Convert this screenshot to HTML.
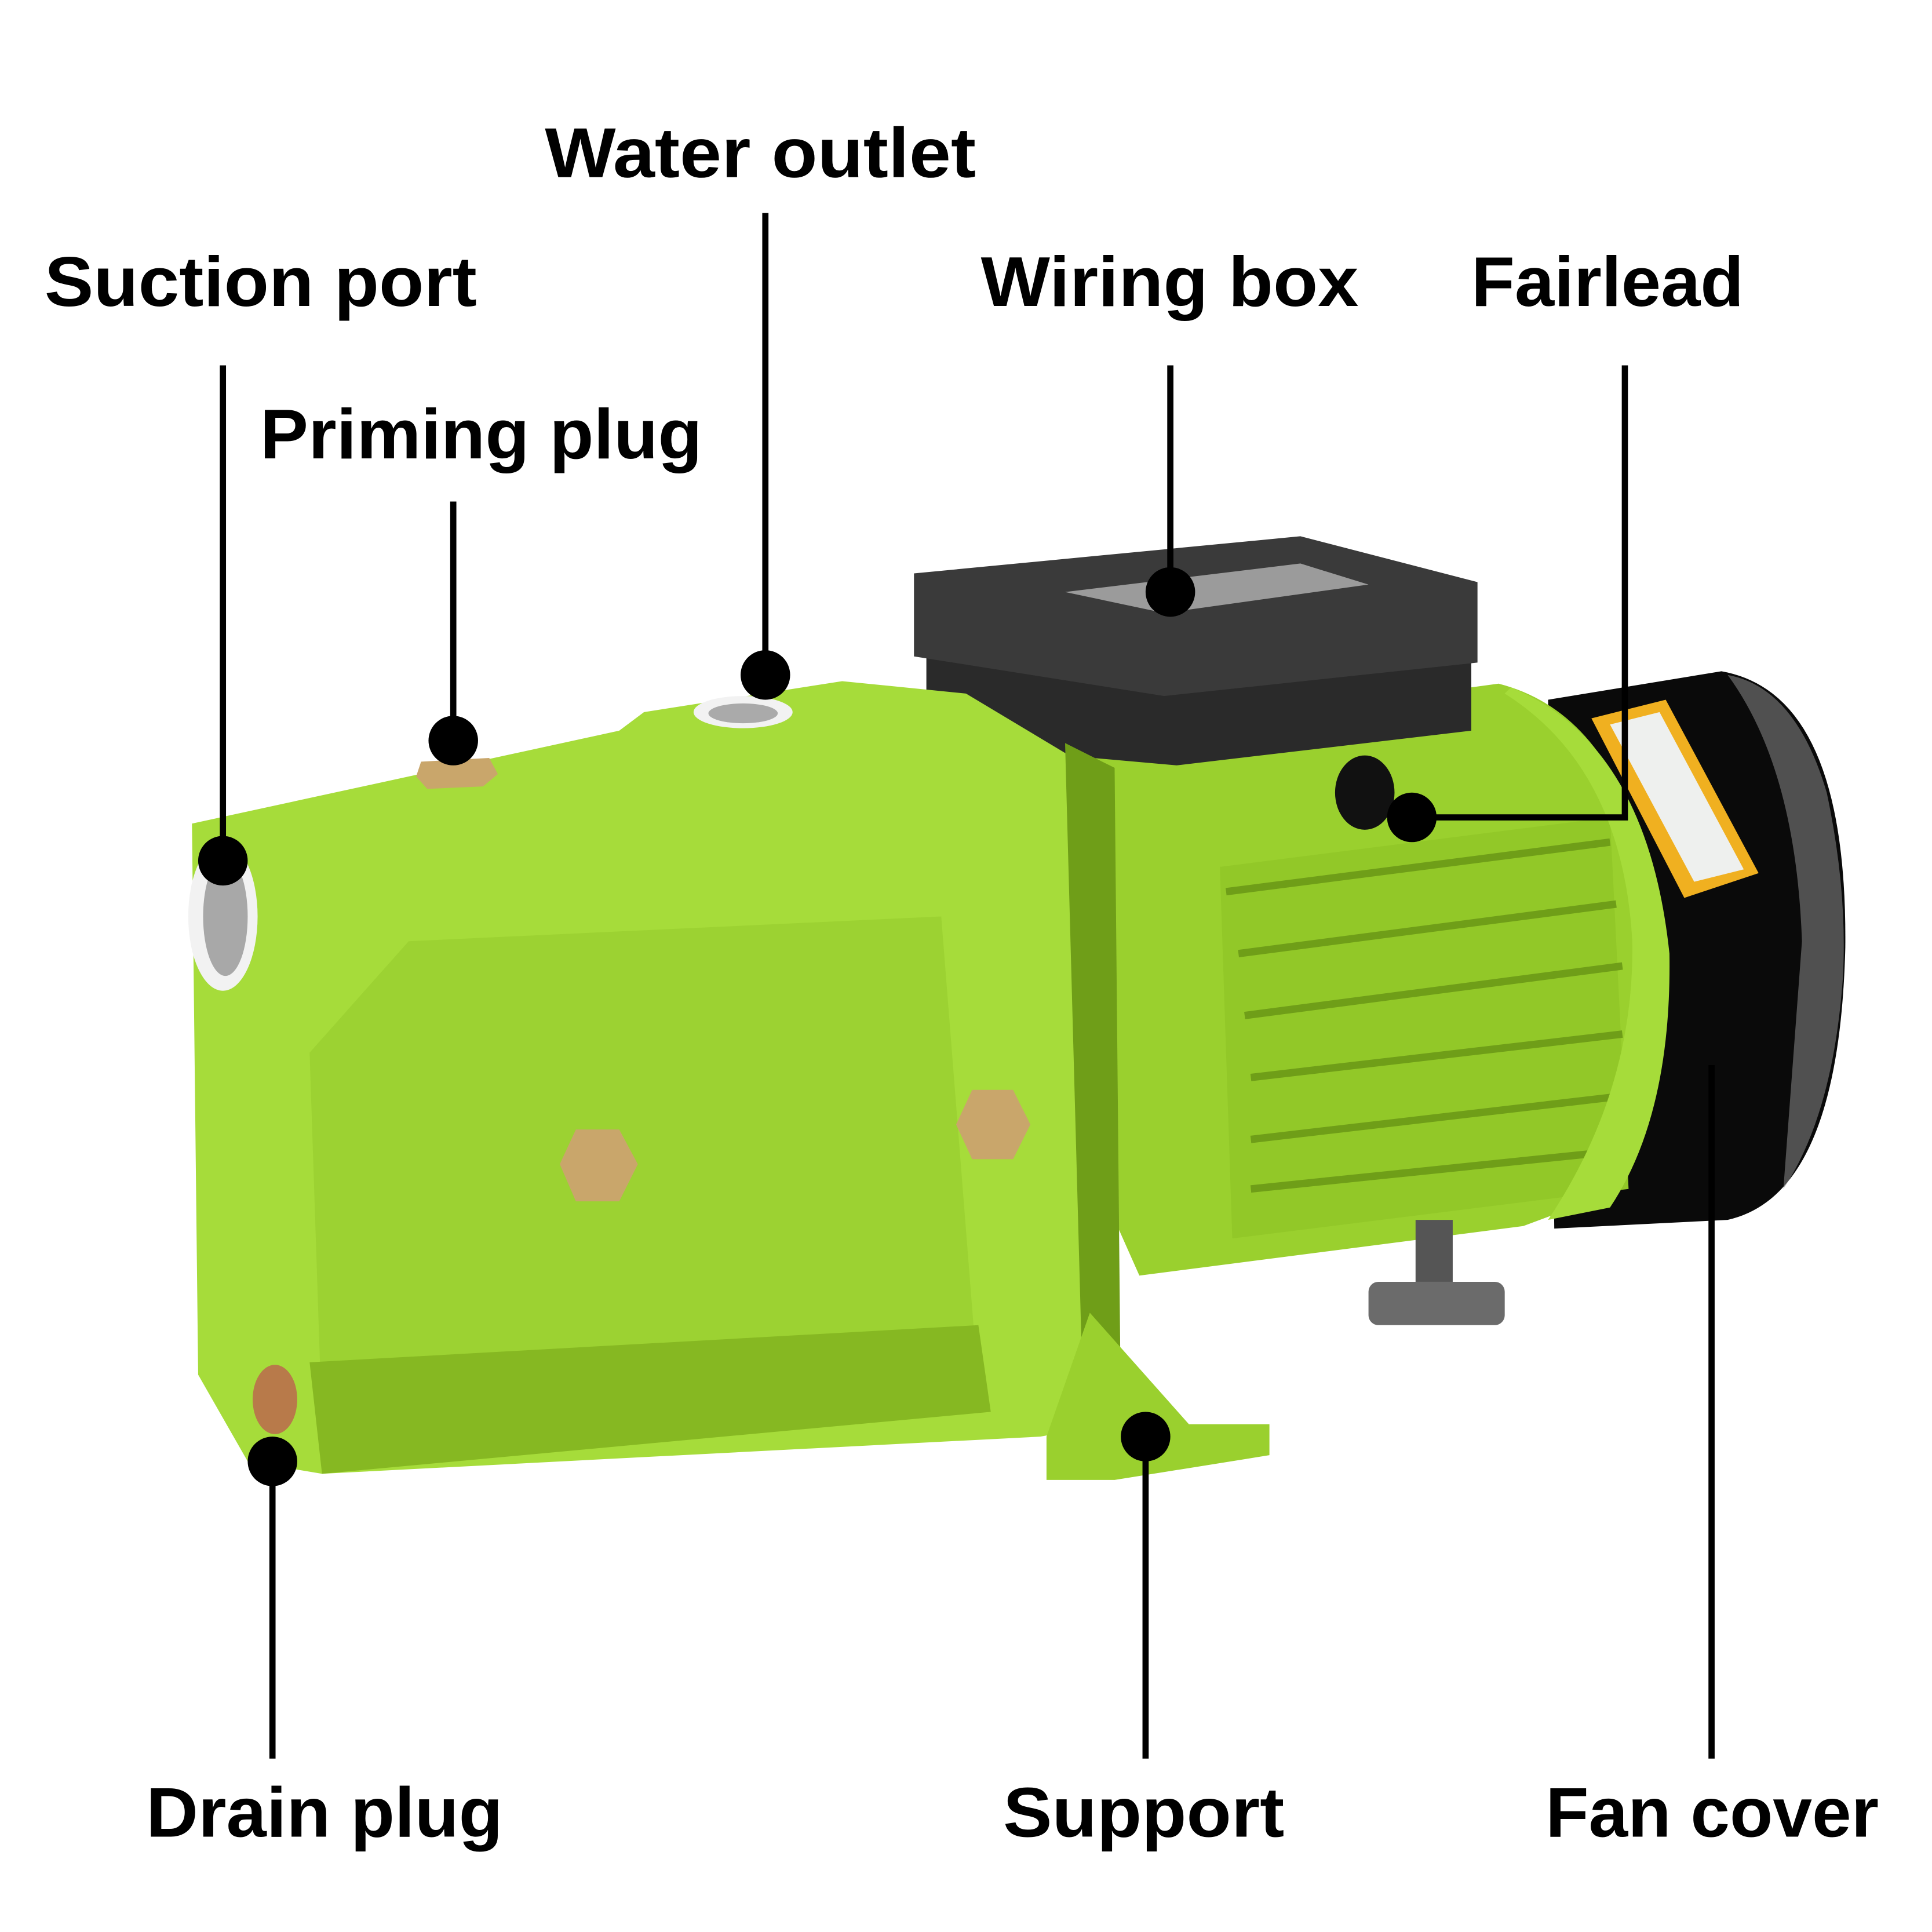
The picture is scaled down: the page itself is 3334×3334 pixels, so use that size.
<!DOCTYPE html>
<html><head><meta charset="utf-8"><style>
html,body{margin:0;padding:0;background:#fff}
svg{display:block}
text{font-family:"Liberation Sans",sans-serif;font-weight:bold;fill:#000}
</style></head><body>
<svg width="3334" height="3334" viewBox="0 0 1560 1560" xmlns="http://www.w3.org/2000/svg">
<rect width="1560" height="1560" fill="#fff"/>
<!-- fan cover -->
<path d="M1250 565 L1390 542 Q1492 560 1490 765 Q1485 965 1395 985 L1255 992 Z" fill="#0a0a0a"/>
<path d="M1395 545 Q1450 555 1475 640 Q1492 720 1488 790 Q1480 900 1440 960 L1455 760 Q1450 620 1395 545 Z" fill="#8a8a8a" opacity="0.55"/>
<path d="M1285 580 L1345 565 L1420 705 L1360 725 Z" fill="#f0b020"/>
<path d="M1300 585 L1340 575 L1408 702 L1368 712 Z" fill="#eef0ee"/>
<!-- motor -->
<path d="M860 600 L1210 552 Q1300 575 1330 700 Q1345 850 1310 960 L1230 990 L920 1030 L880 940 Z" fill="#9ad02e"/>
<path d="M985 700 L1300 660 L1315 960 L995 1000 Z" fill="#92c828"/>
<g stroke="#6f9e18" stroke-width="6">
<line x1="990" y1="720" x2="1300" y2="680"/><line x1="1000" y1="770" x2="1305" y2="730"/>
<line x1="1005" y1="820" x2="1310" y2="780"/><line x1="1010" y1="870" x2="1310" y2="835"/>
<line x1="1010" y1="920" x2="1310" y2="885"/><line x1="1010" y1="960" x2="1300" y2="930"/>
</g>
<path d="M1220 555 Q1330 600 1348 770 Q1350 900 1300 975 L1250 985 Q1320 880 1318 760 Q1310 620 1215 560 Z" fill="#a6dc3a"/>
<!-- leg -->
<rect x="1143" y="985" width="30" height="50" fill="#555"/>
<rect x="1105" y="1035" width="110" height="35" rx="8" fill="#6b6b6b"/>
<!-- wiring box -->
<path d="M748 500 L1188 495 L1188 590 L950 618 L748 600 Z" fill="#2a2a2a"/>
<path d="M738 463 L1050 433 L1193 470 L1193 535 L940 562 L738 530 Z" fill="#3a3a3a"/>
<path d="M860 478 L1050 455 L1105 472 L940 495 Z" fill="#9b9b9b"/>
<!-- fairlead -->
<ellipse cx="1102" cy="640" rx="24" ry="30" fill="#111"/>
<!-- pump housing -->
<path d="M155 665 L500 590 L520 575 L680 550 L780 560 L880 620 L895 1150 L840 1160 L260 1190 L200 1180 L160 1110 Z" fill="#a6dc3a"/>
<path d="M250 850 L330 760 L760 740 L790 1120 L260 1150 Z" fill="#9cd232"/>
<path d="M250 1100 L790 1070 L800 1140 L260 1190 Z" fill="#86b822"/>
<path d="M860 600 L900 620 L905 1140 L875 1150 Z" fill="#6f9e18"/>
<!-- support foot -->
<path d="M880 1060 L960 1150 L1025 1150 L1025 1175 L900 1195 L845 1195 L845 1160 Z" fill="#9ad02e"/>
<!-- ports -->
<ellipse cx="180" cy="740" rx="28" ry="60" fill="#f2f2f2"/>
<ellipse cx="182" cy="740" rx="18" ry="48" fill="#a8a8a8"/>
<ellipse cx="600" cy="575" rx="40" ry="13" fill="#f2f2f2"/>
<ellipse cx="600" cy="576" rx="28" ry="8" fill="#aaa"/>
<!-- bolts -->
<polygon points="340,615 395,612 402,625 390,635 345,637 336,627" fill="#c9a66b"/>
<polygon points="465,912 500,912 515,940 500,970 465,970 452,940" fill="#c9a66b"/>
<polygon points="785,880 818,880 832,908 818,936 785,936 772,908" fill="#c9a66b"/>
<ellipse cx="222" cy="1130" rx="18" ry="28" fill="#b87a4a"/>
<!-- leader lines -->
<g stroke="#000" stroke-width="5" fill="none">
<line x1="180" y1="295" x2="180" y2="695"/>
<line x1="366" y1="405" x2="366" y2="598"/>
<line x1="618" y1="172" x2="618" y2="545"/>
<line x1="945" y1="295" x2="945" y2="478"/>
<polyline points="1312,295 1312,660 1140,660"/>
<line x1="220" y1="1180" x2="220" y2="1420"/>
<line x1="925" y1="1160" x2="925" y2="1420"/>
<line x1="1382" y1="860" x2="1382" y2="1420"/>
</g>
<g fill="#000">
<circle cx="180" cy="695" r="20"/><circle cx="366" cy="598" r="20"/>
<circle cx="618" cy="545" r="20"/><circle cx="945" cy="478" r="20"/>
<circle cx="1140" cy="660" r="20"/><circle cx="220" cy="1180" r="20"/>
<circle cx="925" cy="1160" r="20"/>
</g>
<!-- labels -->
<g font-size="57">
<text x="440" y="143" textLength="348" lengthAdjust="spacingAndGlyphs">Water outlet</text>
<text x="36" y="247" textLength="349" lengthAdjust="spacingAndGlyphs">Suction port</text>
<text x="210" y="370" textLength="357" lengthAdjust="spacingAndGlyphs">Priming plug</text>
<text x="792" y="247" textLength="305" lengthAdjust="spacingAndGlyphs">Wiring box</text>
<text x="1188" y="247" textLength="220" lengthAdjust="spacingAndGlyphs">Fairlead</text>
<text x="118" y="1483" textLength="288" lengthAdjust="spacingAndGlyphs">Drain plug</text>
<text x="810" y="1483" textLength="227" lengthAdjust="spacingAndGlyphs">Support</text>
<text x="1248" y="1483" textLength="269" lengthAdjust="spacingAndGlyphs">Fan cover</text>
</g>
</svg>
</body></html>
